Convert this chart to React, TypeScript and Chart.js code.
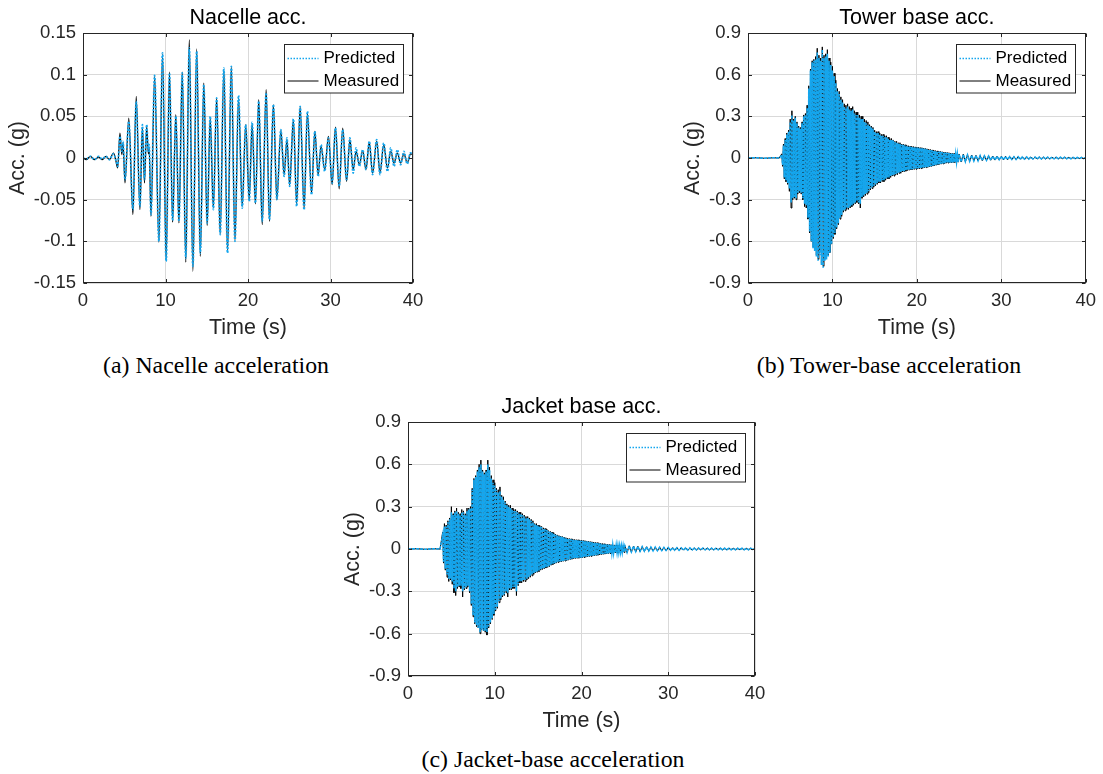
import { useEffect, useRef } from 'react';
import { Chart, registerables } from 'chart.js';

Chart.register(...registerables);

// ---- axis ticks ----
const timeTicks = [0, 10, 20, 30, 40];
const timeTickLabels = ['0', '10', '20', '30', '40'];
const nacelleTicks = [-0.15, -0.1, -0.05, 0, 0.05, 0.1, 0.15];
const nacelleTickLabels = ['-0.15', '-0.1', '-0.05', '0', '0.05', '0.1', '0.15'];
const baseTicks = [-0.9, -0.6, -0.3, 0, 0.3, 0.6, 0.9];
const baseTickLabels = ['-0.9', '-0.6', '-0.3', '0', '0.3', '0.6', '0.9'];

// ---- nacelle acceleration (g): turning points of the record ----
const nacelleTime = [
  0, 0.4, 0.9, 1.4, 1.9, 2.3, 2.8, 3.2, 3.7, 4.0,
  4.2, 4.48, 4.7, 4.85, 5.09, 5.55, 6.05, 6.45, 6.9, 7.2,
  7.45, 7.72, 7.92, 8.02, 8.24, 8.68, 9.2, 9.64, 10.08, 10.48,
  10.86, 11.25, 11.63, 12.03, 12.46, 12.88, 13.32, 13.78, 14.22, 14.64,
  15.05, 15.42, 15.8, 16.2, 16.63, 17.07, 17.52, 17.98, 18.42, 18.85,
  19.3, 19.72, 20.15, 20.5, 20.9, 21.3, 21.72, 22.2, 22.6, 23.08,
  23.5, 23.98, 24.38, 24.72, 25.05, 25.5, 25.9, 26.32, 26.8, 27.2,
  27.7, 28.1, 28.5, 28.85, 29.3, 29.75, 30.2, 30.6, 31.05, 31.48,
  31.95, 32.35, 32.75, 33.1, 33.5, 33.9, 34.3, 34.7, 35.1, 35.6,
  36.0, 36.45, 36.9, 37.3, 37.7, 38.1, 38.5, 38.9, 39.3, 39.7,
  40.0,
];
const nacelleMeasured = [
  0, -0.002, 0.002, -0.002, 0.001, -0.002, 0.002, -0.002, 0.006, -0.004,
  -0.012, 0.03, 0.004, 0.018, -0.03, 0.048, -0.068, 0.074, -0.062, 0.037,
  -0.03, 0.038, 0.005, 0.012, -0.07, 0.098, -0.101, 0.125, -0.122, 0.103,
  -0.077, 0.052, -0.078, 0.103, -0.125, 0.142, -0.136, 0.131, -0.118, 0.09,
  -0.081, 0.048, -0.06, 0.072, -0.091, 0.106, -0.112, 0.109, -0.099, 0.072,
  -0.058, 0.04, -0.05, 0.041, -0.055, 0.07, -0.08, 0.082, -0.076, 0.064,
  -0.05, 0.033, -0.02, 0.022, -0.032, 0.046, -0.055, 0.061, -0.06, 0.054,
  -0.042, 0.032, -0.02, 0.014, -0.014, 0.026, -0.032, 0.037, -0.037, 0.036,
  -0.028, 0.022, -0.014, 0.008, -0.008, 0.009, -0.014, 0.019, -0.018, 0.02,
  -0.018, 0.016, -0.012, 0.008, -0.006, 0.006, -0.006, 0.005, -0.006, 0.005,
  0.004,
];
const nacellePredicted = [
  0, -0.001, 0.002, -0.002, 0.002, -0.001, 0.002, -0.002, 0.005, -0.003,
  -0.01, 0.026, 0.008, 0.02, -0.026, 0.044, -0.062, 0.068, -0.058, 0.04,
  -0.026, 0.04, 0.008, 0.016, -0.068, 0.099, -0.1, 0.126, -0.124, 0.102,
  -0.075, 0.05, -0.076, 0.102, -0.12, 0.132, -0.13, 0.128, -0.114, 0.088,
  -0.078, 0.05, -0.062, 0.072, -0.092, 0.108, -0.114, 0.11, -0.1, 0.075,
  -0.06, 0.04, -0.052, 0.043, -0.054, 0.068, -0.076, 0.078, -0.074, 0.064,
  -0.05, 0.034, -0.022, 0.024, -0.034, 0.047, -0.058, 0.062, -0.062, 0.056,
  -0.044, 0.032, -0.022, 0.016, -0.016, 0.024, -0.03, 0.036, -0.034, 0.034,
  -0.026, 0.024, -0.018, 0.012, -0.01, 0.01, -0.014, 0.02, -0.02, 0.022,
  -0.02, 0.018, -0.016, 0.012, -0.01, 0.01, -0.008, 0.008, -0.007, 0.006,
  0.004,
];

// ---- tower / jacket base (g): quiet lead-in, then alternating extremes ----
// strong-motion part sampled every 0.1 s from 4.0 s to 25.0 s,
// decay sampled every 0.25 s from 25.25 s to 40.0 s
const leadTime = [0, 1, 2, 3, 3.7];
const towerLead = [0, 0.002, -0.002, 0.002, 0];
const jacketLead = [0, 0.002, -0.002, 0.002, 0];
const strongStart = 4.0;
const strongStep = 0.1;
const decayStart = 25.25;
const decayStep = 0.25;

const towerStrongMeasured = [
  0.03, -0.06, 0.10, -0.15, 0.14, -0.17, 0.18, -0.19, 0.20, -0.24,
  0.28, -0.36, 0.34, -0.30, 0.28, -0.29, 0.30, -0.30, 0.26, -0.26,
  0.23, -0.25, 0.22, -0.26, 0.26, -0.30, 0.31, -0.35, 0.32, -0.36,
  0.38, -0.44, 0.52, -0.54, 0.64, -0.60, 0.70, -0.64, 0.71, -0.66,
  0.73, -0.70, 0.79, -0.73, 0.74, -0.68, 0.72, -0.76, 0.80, -0.78,
  0.74, -0.73, 0.75, -0.72, 0.78, -0.70, 0.72, -0.68, 0.69, -0.62,
  0.66, -0.58, 0.61, -0.55, 0.56, -0.51, 0.50, -0.48, 0.48, -0.44,
  0.44, -0.42, 0.42, -0.39, 0.39, -0.38, 0.38, -0.37, 0.39, -0.37,
  0.37, -0.36, 0.36, -0.35, 0.37, -0.34, 0.34, -0.33, 0.33, -0.32,
  0.33, -0.33, 0.31, -0.36, 0.30, -0.29, 0.30, -0.28, 0.28, -0.27,
  0.27, -0.26, 0.26, -0.25, 0.24, -0.23, 0.23, -0.22, 0.22, -0.21,
  0.20, -0.20, 0.19, -0.19, 0.19, -0.18, 0.18, -0.18, 0.17, -0.17,
  0.17, -0.17, 0.16, -0.16, 0.16, -0.15, 0.15, -0.15, 0.14, -0.14,
  0.14, -0.13, 0.13, -0.13, 0.12, -0.12, 0.12, -0.12, 0.11, -0.11,
  0.11, -0.11, 0.10, -0.10, 0.10, -0.10, 0.095, -0.095, 0.09, -0.09,
  0.088, -0.088, 0.085, -0.086, 0.083, -0.084, 0.082, -0.082, 0.08, -0.081,
  0.079, -0.079, 0.077, -0.078, 0.075, -0.076, 0.074, -0.074, 0.071, -0.071,
  0.069, -0.069, 0.066, -0.067, 0.063, -0.064, 0.061, -0.062, 0.058, -0.058,
  0.056, -0.055, 0.053, -0.052, 0.051, -0.049, 0.049, -0.046, 0.047, -0.044,
  0.045, -0.042, 0.043, -0.04, 0.042, -0.037, 0.04, -0.036, 0.038, -0.035,
  0.036, -0.034, 0.034, -0.033, 0.033, -0.032, 0.031, -0.031, 0.03, -0.03,
  0.029,
];
const towerStrongPredicted = [
  0.02, -0.05, 0.09, -0.14, 0.13, -0.16, 0.17, -0.18, 0.19, -0.22,
  0.26, -0.32, 0.31, -0.29, 0.27, -0.28, 0.29, -0.29, 0.25, -0.25,
  0.22, -0.24, 0.21, -0.25, 0.25, -0.29, 0.30, -0.33, 0.31, -0.34,
  0.36, -0.43, 0.50, -0.53, 0.63, -0.60, 0.69, -0.65, 0.70, -0.67,
  0.71, -0.71, 0.76, -0.74, 0.72, -0.70, 0.70, -0.77, 0.78, -0.79,
  0.72, -0.74, 0.73, -0.73, 0.75, -0.71, 0.70, -0.68, 0.67, -0.62,
  0.63, -0.57, 0.59, -0.54, 0.54, -0.50, 0.48, -0.47, 0.46, -0.43,
  0.42, -0.41, 0.40, -0.38, 0.37, -0.37, 0.36, -0.36, 0.37, -0.36,
  0.35, -0.35, 0.34, -0.34, 0.35, -0.33, 0.32, -0.32, 0.31, -0.31,
  0.31, -0.32, 0.29, -0.33, 0.28, -0.28, 0.28, -0.27, 0.26, -0.26,
  0.25, -0.25, 0.24, -0.24, 0.23, -0.22, 0.22, -0.21, 0.21, -0.20,
  0.19, -0.19, 0.18, -0.18, 0.18, -0.17, 0.17, -0.17, 0.16, -0.16,
  0.16, -0.16, 0.15, -0.15, 0.15, -0.14, 0.14, -0.14, 0.13, -0.13,
  0.13, -0.125, 0.125, -0.12, 0.115, -0.115, 0.11, -0.11, 0.105, -0.105,
  0.10, -0.10, 0.095, -0.095, 0.095, -0.095, 0.09, -0.09, 0.086, -0.086,
  0.084, -0.084, 0.082, -0.082, 0.08, -0.08, 0.078, -0.078, 0.076, -0.077,
  0.075, -0.076, 0.074, -0.075, 0.072, -0.073, 0.071, -0.071, 0.068, -0.068,
  0.066, -0.066, 0.063, -0.064, 0.06, -0.061, 0.058, -0.059, 0.055, -0.055,
  0.053, -0.052, 0.05, -0.049, 0.048, -0.046, 0.046, -0.043, 0.044, -0.041,
  0.042, -0.039, 0.04, -0.037, 0.039, -0.035, 0.037, -0.034, 0.035, -0.033,
  0.034, -0.032, 0.032, -0.031, 0.031, -0.03, 0.029, -0.029, 0.028, -0.028,
  0.027,
];
const towerDecayMeasured = [
  -0.029, 0.027, -0.027, 0.024, -0.025, 0.021, -0.022, 0.019, -0.021, 0.017,
  -0.019, 0.016, -0.018, 0.015, -0.016, 0.014, -0.015, 0.013, -0.014, 0.012,
  -0.013, 0.011, -0.012, 0.01, -0.011, 0.01, -0.01, 0.009, -0.009, 0.008,
  -0.009, 0.008, -0.008, 0.007, -0.008, 0.007, -0.007, 0.007, -0.007, 0.006,
  -0.007, 0.006, -0.006, 0.006, -0.006, 0.005, -0.006, 0.005, -0.005, 0.005,
  -0.005, 0.005, -0.005, 0.004, -0.005, 0.004, -0.004, 0.004, -0.004, 0.004,
];
const towerDecayPredicted = [
  -0.028, 0.026, -0.026, 0.023, -0.024, 0.02, -0.021, 0.018, -0.02, 0.017,
  -0.018, 0.015, -0.017, 0.014, -0.015, 0.013, -0.014, 0.012, -0.013, 0.011,
  -0.012, 0.011, -0.011, 0.01, -0.01, 0.009, -0.01, 0.009, -0.009, 0.008,
  -0.008, 0.008, -0.008, 0.007, -0.007, 0.007, -0.007, 0.007, -0.007, 0.006,
  -0.006, 0.006, -0.006, 0.006, -0.006, 0.005, -0.005, 0.005, -0.005, 0.005,
  -0.005, 0.005, -0.005, 0.004, -0.004, 0.004, -0.004, 0.004, -0.004, 0.004,
];

const jacketStrongMeasured = [
  0.12, -0.10, 0.18, -0.15, 0.17, -0.20, 0.20, -0.23, 0.22, -0.22,
  0.30, -0.25, 0.25, -0.31, 0.27, -0.33, 0.29, -0.28, 0.26, -0.27,
  0.25, -0.28, 0.28, -0.34, 0.27, -0.29, 0.25, -0.28, 0.29, -0.27,
  0.29, -0.31, 0.30, -0.40, 0.43, -0.48, 0.50, -0.53, 0.52, -0.55,
  0.56, -0.56, 0.60, -0.60, 0.63, -0.57, 0.56, -0.58, 0.54, -0.59,
  0.56, -0.61, 0.63, -0.56, 0.58, -0.53, 0.52, -0.50, 0.49, -0.47,
  0.47, -0.44, 0.43, -0.42, 0.42, -0.38, 0.44, -0.36, 0.38, -0.34,
  0.37, -0.33, 0.34, -0.31, 0.32, -0.34, 0.31, -0.29, 0.31, -0.29,
  0.29, -0.28, 0.28, -0.28, 0.28, -0.33, 0.27, -0.26, 0.26, -0.24,
  0.26, -0.24, 0.25, -0.23, 0.24, -0.23, 0.23, -0.22, 0.23, -0.21,
  0.22, -0.20, 0.21, -0.19, 0.20, -0.18, 0.18, -0.17, 0.18, -0.165,
  0.17, -0.16, 0.165, -0.15, 0.16, -0.145, 0.15, -0.14, 0.145, -0.135,
  0.14, -0.13, 0.13, -0.125, 0.125, -0.115, 0.12, -0.11, 0.115, -0.105,
  0.105, -0.10, 0.10, -0.095, 0.095, -0.092, 0.092, -0.09, 0.088, -0.087,
  0.085, -0.085, 0.08, -0.082, 0.076, -0.079, 0.074, -0.075, 0.072, -0.072,
  0.069, -0.069, 0.067, -0.067, 0.066, -0.066, 0.065, -0.065, 0.064, -0.064,
  0.062, -0.062, 0.061, -0.06, 0.059, -0.058, 0.057, -0.056, 0.055, -0.054,
  0.053, -0.052, 0.051, -0.05, 0.049, -0.048, 0.047, -0.046, 0.045, -0.044,
  0.043, -0.042, 0.041, -0.04, 0.039, -0.038, 0.037, -0.036, 0.035, -0.035,
  0.034, -0.033, 0.033, -0.032, 0.031, -0.031, 0.03, -0.029, 0.029, -0.028,
  0.028, -0.027, 0.027, -0.026, 0.026, -0.025, 0.025, -0.025, 0.024, -0.024,
  0.024,
];
const jacketStrongPredicted = [
  0.10, -0.09, 0.16, -0.14, 0.16, -0.18, 0.19, -0.21, 0.21, -0.21,
  0.26, -0.23, 0.24, -0.28, 0.26, -0.30, 0.27, -0.27, 0.25, -0.26,
  0.24, -0.26, 0.26, -0.30, 0.26, -0.28, 0.24, -0.27, 0.27, -0.26,
  0.28, -0.30, 0.29, -0.39, 0.42, -0.47, 0.49, -0.52, 0.51, -0.54,
  0.55, -0.56, 0.58, -0.59, 0.60, -0.57, 0.55, -0.58, 0.53, -0.58,
  0.55, -0.59, 0.60, -0.55, 0.56, -0.52, 0.50, -0.49, 0.47, -0.46,
  0.45, -0.43, 0.42, -0.41, 0.40, -0.37, 0.41, -0.35, 0.37, -0.33,
  0.35, -0.32, 0.33, -0.30, 0.31, -0.31, 0.30, -0.28, 0.29, -0.28,
  0.28, -0.27, 0.27, -0.27, 0.27, -0.30, 0.26, -0.25, 0.25, -0.23,
  0.25, -0.23, 0.24, -0.22, 0.23, -0.22, 0.22, -0.21, 0.22, -0.20,
  0.21, -0.19, 0.20, -0.18, 0.19, -0.17, 0.175, -0.165, 0.17, -0.16,
  0.165, -0.155, 0.16, -0.145, 0.155, -0.14, 0.145, -0.135, 0.14, -0.13,
  0.135, -0.125, 0.125, -0.12, 0.12, -0.11, 0.115, -0.105, 0.11, -0.10,
  0.10, -0.096, 0.096, -0.091, 0.091, -0.088, 0.088, -0.086, 0.085, -0.084,
  0.082, -0.082, 0.077, -0.079, 0.073, -0.076, 0.071, -0.072, 0.069, -0.069,
  0.066, -0.066, 0.064, -0.064, 0.063, -0.063, 0.062, -0.062, 0.061, -0.061,
  0.059, -0.06, 0.058, -0.057, 0.056, -0.055, 0.054, -0.053, 0.052, -0.051,
  0.05, -0.049, 0.048, -0.047, 0.046, -0.045, 0.044, -0.043, 0.042, -0.041,
  0.04, -0.039, 0.038, -0.037, 0.036, -0.035, 0.035, -0.034, 0.033, -0.033,
  0.032, -0.031, 0.031, -0.03, 0.029, -0.029, 0.028, -0.027, 0.027, -0.026,
  0.026, -0.025, 0.025, -0.024, 0.024, -0.023, 0.023, -0.023, 0.022, -0.022,
  0.022,
];
const jacketDecayMeasured = [
  -0.025, 0.023, -0.022, 0.021, -0.02, 0.019, -0.018, 0.017, -0.017, 0.016,
  -0.015, 0.014, -0.014, 0.013, -0.013, 0.012, -0.012, 0.011, -0.011, 0.01,
  -0.01, 0.0095, -0.009, 0.009, -0.0085, 0.0085, -0.008, 0.008, -0.008, 0.0075,
  -0.0075, 0.007, -0.007, 0.007, -0.007, 0.0065, -0.0065, 0.0065, -0.006, 0.006,
  -0.006, 0.006, -0.006, 0.0055, -0.0055, 0.0055, -0.0055, 0.005, -0.005, 0.005,
  -0.005, 0.005, -0.005, 0.005, -0.005, 0.005, -0.005, 0.005, -0.005, 0.005,
];
const jacketDecayPredicted = [
  -0.024, 0.022, -0.021, 0.02, -0.019, 0.018, -0.017, 0.016, -0.016, 0.015,
  -0.014, 0.014, -0.013, 0.013, -0.012, 0.012, -0.011, 0.011, -0.01, 0.01,
  -0.0095, 0.009, -0.009, 0.0085, -0.0085, 0.008, -0.008, 0.008, -0.0075, 0.0075,
  -0.007, 0.007, -0.007, 0.0065, -0.0065, 0.0065, -0.006, 0.006, -0.006, 0.006,
  -0.0055, 0.0055, -0.0055, 0.0055, -0.005, 0.005, -0.005, 0.005, -0.005, 0.005,
  -0.005, 0.005, -0.005, 0.005, -0.005, 0.005, -0.005, 0.005, -0.005, 0.005,
];

const PRED_COLOR = '#14a6ee';
const MEAS_COLOR = '#000000';
const AXIS_COLOR = '#262626';
const SANS = '"Liberation Sans", Arial, sans-serif';
const SERIF = '"Liberation Serif", "Times New Roman", serif';

type Pt = { x: number; y: number };

const pairUp = (times: number[], values: number[]): Pt[] =>
  values.map((v, i) => ({ x: times[i], y: v }));

const sampled = (lead: number[], strong: number[], decay: number[]): Pt[] => [
  ...pairUp(leadTime, lead),
  ...strong.map((v, i) => ({ x: strongStart + i * strongStep, y: v })),
  ...decay.map((v, i) => ({ x: decayStart + i * decayStep, y: v })),
];

// title, box, inward tick marks and the legend inside the axes
const framePlugin = {
  id: 'frameAndLegend',
  afterDraw(chart: any) {
    const { ctx, chartArea: a, scales } = chart;
    const opts = chart.options.plugins.frameAndLegend || {};
    const L = Math.round(a.left) + 0.5;
    const R = Math.round(a.right) - 0.5;
    const T = Math.round(a.top) + 0.5;
    const B = Math.round(a.bottom) - 0.5;
    ctx.save();

    ctx.fillStyle = '#000000';
    ctx.font = `21.5px ${SANS}`;
    ctx.textAlign = 'center';
    ctx.textBaseline = 'middle';
    ctx.fillText(opts.title || '', (a.left + a.right) / 2, a.top - 15);

    ctx.strokeStyle = AXIS_COLOR;
    ctx.lineWidth = 1;
    ctx.setLineDash([]);
    ctx.strokeRect(L, T, R - L, B - T);
    const tl = 3.5;
    ctx.beginPath();
    for (const t of scales.x.ticks) {
      const px = Math.round(scales.x.getPixelForValue(t.value)) + 0.5;
      ctx.moveTo(px, B); ctx.lineTo(px, B - tl);
      ctx.moveTo(px, T); ctx.lineTo(px, T + tl);
    }
    for (const t of scales.y.ticks) {
      const py = Math.round(scales.y.getPixelForValue(t.value)) + 0.5;
      ctx.moveTo(L, py); ctx.lineTo(L + tl, py);
      ctx.moveTo(R, py); ctx.lineTo(R - tl, py);
    }
    ctx.stroke();

    // legend
    const w = 119;
    const h = 48.5;
    const bx = Math.round(a.right - 10.5 - w) + 0.5;
    const by = Math.round(a.top + 11) + 0.5;
    ctx.fillStyle = '#ffffff';
    ctx.fillRect(bx, by, w, h);
    ctx.strokeRect(bx, by, w, h);
    const r1 = by + 14;
    const r2 = by + 36.5;
    ctx.lineWidth = 1.5;
    ctx.strokeStyle = PRED_COLOR;
    ctx.setLineDash([1.5, 1.5]);
    ctx.beginPath(); ctx.moveTo(bx + 3, r1); ctx.lineTo(bx + 34, r1); ctx.stroke();
    ctx.setLineDash([]);
    ctx.lineWidth = 1;
    ctx.strokeStyle = MEAS_COLOR;
    ctx.beginPath(); ctx.moveTo(bx + 3, r2); ctx.lineTo(bx + 34, r2); ctx.stroke();
    ctx.fillStyle = '#000000';
    ctx.font = `17px ${SANS}`;
    ctx.textAlign = 'left';
    ctx.fillText('Predicted', bx + 39, r1);
    ctx.fillText('Measured', bx + 39, r2);
    ctx.restore();
  },
};

type PanelProps = {
  left: number;
  top: number;
  width: number;
  height: number;
  yAxisWidth: number;
  padRight: number;
  yTitlePad: number;
  title: string;
  yTicks: number[];
  yTickLabels: string[];
  predicted: Pt[];
  measured: Pt[];
  dense: boolean;
};

function Panel(p: PanelProps) {
  const ref = useRef<HTMLCanvasElement | null>(null);
  useEffect(() => {
    if (!ref.current) return;
    const yMin = p.yTicks[0];
    const yMax = p.yTicks[p.yTicks.length - 1];
    const chart = new Chart(ref.current, {
      type: 'line',
      data: {
        datasets: [
          {
            label: 'Predicted',
            data: p.predicted,
            borderColor: PRED_COLOR,
            borderWidth: p.dense ? 1.6 : 1.8,
            borderDash: p.dense ? [3, 1] : [2, 1.5],
            pointRadius: 0,
            fill: false,
            cubicInterpolationMode: p.dense ? 'default' : 'monotone',
            tension: 0,
          },
          {
            label: 'Measured',
            data: p.measured,
            borderColor: MEAS_COLOR,
            borderWidth: p.dense ? 1 : 1.2,
            pointRadius: 0,
            fill: false,
            cubicInterpolationMode: p.dense ? 'default' : 'monotone',
            tension: 0,
          },
        ],
      },
      options: {
        responsive: false,
        animation: false,
        events: [],
        layout: { padding: { left: 0, right: p.padRight, top: 33, bottom: 0 } },
        plugins: {
          legend: { display: false },
          tooltip: { enabled: false },
          title: { display: false },
          frameAndLegend: { title: p.title },
        },
        scales: {
          x: {
            type: 'linear',
            min: 0,
            max: 40,
            afterBuildTicks: (s: any) => { s.ticks = timeTicks.map((v) => ({ value: v })); },
            afterFit: (s: any) => { s.height = 62; },
            ticks: {
              color: AXIS_COLOR,
              font: { family: SANS, size: 18.5 },
              padding: 7,
              maxRotation: 0,
              autoSkip: false,
              callback: (_v: any, i: number) => timeTickLabels[i],
            },
            grid: { color: '#d9d9d9', lineWidth: 1, drawTicks: false },
            border: { display: false },
            title: {
              display: true,
              text: 'Time (s)',
              color: AXIS_COLOR,
              font: { family: SANS, size: 21.5 },
              padding: { top: 0, bottom: 4 },
            },
          },
          y: {
            type: 'linear',
            min: yMin,
            max: yMax,
            afterBuildTicks: (s: any) => { s.ticks = p.yTicks.map((v) => ({ value: v })); },
            afterFit: (s: any) => { s.width = p.yAxisWidth; },
            ticks: {
              color: AXIS_COLOR,
              font: { family: SANS, size: 18.5 },
              padding: 7,
              autoSkip: false,
              callback: (_v: any, i: number) => p.yTickLabels[i],
            },
            grid: { color: '#d9d9d9', lineWidth: 1, drawTicks: false },
            border: { display: false },
            title: {
              display: true,
              text: 'Acc. (g)',
              color: AXIS_COLOR,
              font: { family: SANS, size: 21.5 },
              padding: { top: p.yTitlePad, bottom: 0 },
            },
          },
        },
      } as any,
      plugins: [framePlugin],
    });
    return () => chart.destroy();
  }, []);
  return (
    <canvas
      ref={ref}
      width={p.width}
      height={p.height}
      style={{ position: 'absolute', left: p.left, top: p.top, width: p.width, height: p.height }}
    />
  );
}

function Caption({ x, y, text }: { x: number; y: number; text: string }) {
  return (
    <div
      style={{
        position: 'absolute',
        left: x,
        top: y,
        transform: 'translate(-50%, -50%)',
        fontFamily: SERIF,
        fontSize: 23.8,
        color: '#000',
        whiteSpace: 'nowrap',
        lineHeight: 1,
      }}
    >
      {text}
    </div>
  );
}

export default function App() {
  return (
    <div style={{ position: 'absolute', left: 0, top: 0, width: 1103, height: 774, background: '#fff', overflow: 'hidden' }}>
      <Panel
        left={0} top={0} width={440} height={345}
        yAxisWidth={83} padRight={27} yTitlePad={5.5}
        title="Nacelle acc."
        yTicks={nacelleTicks} yTickLabels={nacelleTickLabels}
        predicted={pairUp(nacelleTime, nacellePredicted)}
        measured={pairUp(nacelleTime, nacelleMeasured)}
        dense={false}
      />
      <Panel
        left={660} top={0} width={443} height={345}
        yAxisWidth={88} padRight={15} yTitlePad={20.2}
        title="Tower base acc."
        yTicks={baseTicks} yTickLabels={baseTickLabels}
        predicted={sampled(towerLead, towerStrongPredicted, towerDecayPredicted)}
        measured={sampled(towerLead, towerStrongMeasured, towerDecayMeasured)}
        dense={true}
      />
      <Panel
        left={320} top={389} width={470} height={349}
        yAxisWidth={88} padRight={35} yTitlePad={20}
        title="Jacket base acc."
        yTicks={baseTicks} yTickLabels={baseTickLabels}
        predicted={sampled(jacketLead, jacketStrongPredicted, jacketDecayPredicted)}
        measured={sampled(jacketLead, jacketStrongMeasured, jacketDecayMeasured)}
        dense={true}
      />
      <Caption x={216} y={366} text="(a) Nacelle acceleration" />
      <Caption x={889} y={366} text="(b) Tower-base acceleration" />
      <Caption x={553} y={760} text="(c) Jacket-base acceleration" />
    </div>
  );
}
